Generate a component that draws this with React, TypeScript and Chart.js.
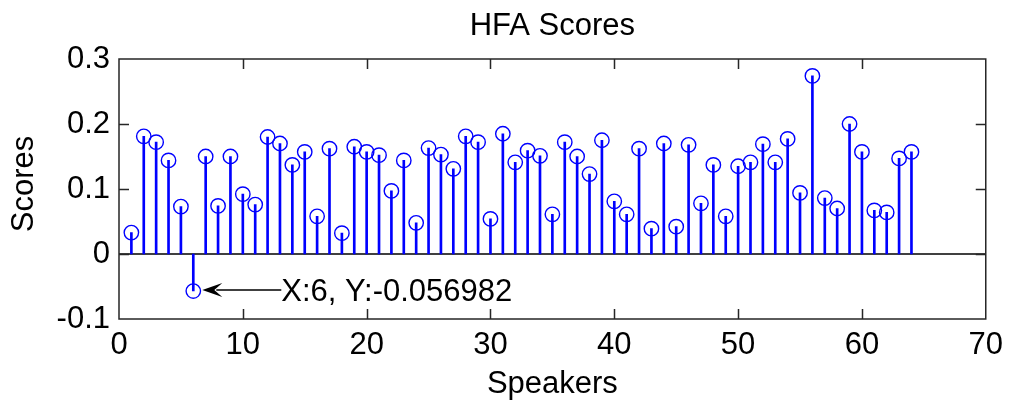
import React, { useEffect, useRef } from 'react';
import { Chart, registerables } from 'chart.js';

Chart.register(...registerables);

// Speaker index and its HFA score
const speakers = [
  1, 2, 3, 4, 5, 6, 7, 8, 9, 10, 11, 12, 13, 14, 15, 16,
  17, 18, 19, 20, 21, 22, 23, 24, 25, 26, 27, 28, 29, 30, 31, 32,
  33, 34, 35, 36, 37, 38, 39, 40, 41, 42, 43, 44, 45, 46, 47, 48,
  49, 50, 51, 52, 53, 54, 55, 56, 57, 58, 59, 60, 61, 62, 63, 64,
];
const scores = [
  0.033, 0.181, 0.172, 0.144, 0.073, -0.056982, 0.150, 0.074,
  0.150, 0.092, 0.076, 0.180, 0.170, 0.137, 0.157, 0.058,
  0.162, 0.032, 0.165, 0.157, 0.152, 0.097, 0.144, 0.048,
  0.163, 0.153, 0.131, 0.181, 0.172, 0.054, 0.185, 0.141,
  0.159, 0.151, 0.061, 0.172, 0.150, 0.123, 0.175, 0.081,
  0.061, 0.162, 0.039, 0.170, 0.042, 0.168, 0.078, 0.137,
  0.058, 0.135, 0.141, 0.169, 0.141, 0.177, 0.094, 0.274,
  0.086, 0.070, 0.200, 0.157, 0.067, 0.064, 0.147, 0.157,
];
const xTicks = [0, 10, 20, 30, 40, 50, 60, 70];
const yTicks = [-0.1, 0, 0.1, 0.2, 0.3];
const tipIndex = 5; // speaker 6, the data tip

const FONT = "'Liberation Sans', Arial, Helvetica, sans-serif";
const STEM = '#0000ff';
const AXIS = '#262626';
const TICK_LEN = 10;

const fmt = (v: number) => String(Number(v.toFixed(4)));

// Axes box, inward ticks, zero baseline, titles and the data tip
const frame = {
  id: 'matlabFrame',
  beforeDatasetsDraw(chart: any) {
    const { ctx, chartArea: a, scales } = chart;
    const y0 = scales.y.getPixelForValue(0);
    ctx.save();
    ctx.strokeStyle = '#000';
    ctx.lineWidth = 1.5;
    ctx.beginPath();
    ctx.moveTo(a.left, y0);
    ctx.lineTo(a.right, y0);
    ctx.stroke();
    ctx.restore();
  },
  afterDatasetsDraw(chart: any) {
    const { ctx, chartArea: a, scales } = chart;
    const { x, y } = scales;
    ctx.save();
    ctx.strokeStyle = AXIS;
    ctx.lineWidth = 1.5;
    ctx.strokeRect(a.left, a.top, a.right - a.left, a.bottom - a.top);
    ctx.beginPath();
    xTicks.slice(1, -1).forEach((v) => {
      const px = Math.round(x.getPixelForValue(v)) + 0.5;
      ctx.moveTo(px, a.bottom);
      ctx.lineTo(px, a.bottom - TICK_LEN);
      ctx.moveTo(px, a.top);
      ctx.lineTo(px, a.top + TICK_LEN);
    });
    yTicks.slice(1, -1).forEach((v) => {
      const py = Math.round(y.getPixelForValue(v)) + 0.5;
      ctx.moveTo(a.left, py);
      ctx.lineTo(a.left + TICK_LEN, py);
      ctx.moveTo(a.right, py);
      ctx.lineTo(a.right - TICK_LEN, py);
    });
    ctx.stroke();

    const cx = (a.left + a.right) / 2;
    ctx.fillStyle = '#000';
    ctx.font = `31px ${FONT}`;
    ctx.textAlign = 'center';
    ctx.textBaseline = 'alphabetic';
    ctx.fillText('HFA Scores', cx, 35);
    ctx.fillText('Speakers', cx, 393);

    ctx.save();
    ctx.translate(33, 184);
    ctx.rotate(-Math.PI / 2);
    ctx.fillText('Scores', 0, 0);
    ctx.restore();

    // data tip: arrow pointing at the selected stem
    const sx = speakers[tipIndex];
    const sy = scores[tipIndex];
    const px = x.getPixelForValue(sx);
    const py = y.getPixelForValue(sy);
    const tipX = px + 9;
    const lineY = py - 1;
    ctx.strokeStyle = '#000';
    ctx.lineWidth = 1.5;
    ctx.beginPath();
    ctx.moveTo(tipX + 14, lineY);
    ctx.lineTo(px + 88, lineY);
    ctx.stroke();
    ctx.beginPath();
    ctx.moveTo(tipX, lineY);
    ctx.lineTo(tipX + 20, lineY - 7);
    ctx.lineTo(tipX + 12, lineY);
    ctx.lineTo(tipX + 20, lineY + 7);
    ctx.closePath();
    ctx.fill();
    ctx.textAlign = 'left';
    ctx.textBaseline = 'alphabetic';
    ctx.fillText(`X:${sx}, Y:${sy}`, px + 88, lineY + 11);
    ctx.restore();
  },
};

export default function App() {
  const ref = useRef<HTMLCanvasElement | null>(null);

  useEffect(() => {
    if (!ref.current) return;
    const points = speakers.map((s, i) => ({ x: s, y: scores[i] }));
    const chart = new Chart(ref.current, {
      type: 'bar',
      data: {
        datasets: [
          {
            type: 'scatter' as any,
            data: points,
            showLine: false,
            pointStyle: 'circle',
            pointRadius: 7.2,
            pointHoverRadius: 7.2,
            pointBorderWidth: 1.4,
            pointBackgroundColor: 'rgba(0,0,0,0)',
            pointBorderColor: STEM,
            order: 0,
          } as any,
          {
            type: 'bar',
            data: points,
            backgroundColor: STEM,
            borderWidth: 0,
            barThickness: 2,
            order: 1,
          } as any,
        ],
      },
      plugins: [frame],
      options: {
        animation: false,
        responsive: false,
        devicePixelRatio: 1,
        events: [],
        layout: { padding: { left: 0, right: 23, top: 59, bottom: 0 } },
        plugins: {
          legend: { display: false },
          tooltip: { enabled: false },
          title: { display: false },
        },
        scales: {
          x: {
            type: 'linear',
            min: 0,
            max: 70,
            offset: false,
            grid: { display: false, drawTicks: false },
            border: { display: false },
            afterBuildTicks: (s: any) => {
              s.ticks = xTicks.map((v) => ({ value: v }));
            },
            afterFit: (s: any) => {
              s.height = 85;
            },
            ticks: {
              color: '#000',
              padding: 8,
              maxRotation: 0,
              minRotation: 0,
              autoSkip: false,
              font: { family: FONT, size: 31 },
              callback: (v: any) => fmt(Number(v)),
            },
          },
          y: {
            type: 'linear',
            min: -0.1,
            max: 0.3,
            grid: { display: false, drawTicks: false },
            border: { display: false },
            afterBuildTicks: (s: any) => {
              s.ticks = yTicks.map((v) => ({ value: v }));
            },
            afterFit: (s: any) => {
              s.width = 119;
            },
            ticks: {
              color: '#000',
              padding: 9,
              autoSkip: false,
              font: { family: FONT, size: 31 },
              callback: (v: any) => fmt(Number(v)),
            },
          },
        },
      } as any,
    });
    return () => chart.destroy();
  }, []);

  return (
    <div style={{ position: 'fixed', left: 0, top: 0, width: 1011, height: 404, background: '#fff' }}>
      <canvas ref={ref} width={1011} height={404} style={{ display: 'block' }} />
    </div>
  );
}
